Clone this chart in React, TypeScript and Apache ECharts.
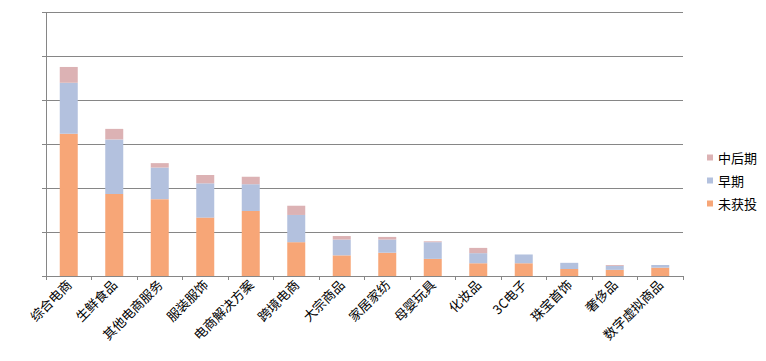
import React, { useEffect, useRef } from "react";
import * as echarts from "echarts";

const categories = [
  "综合电商", "生鲜食品", "其他电商服务", "服装服饰", "电商解决方案", "跨境电商", "大宗商品",
  "家居家纺", "母婴玩具", "化妆品", "3C电子", "珠宝首饰", "奢侈品", "数字虚拟商品",
];
const notFunded = [324, 187, 175, 133, 148, 77, 47, 53, 39, 29, 29, 16, 14, 19];
const early = [116, 124, 72, 78, 61, 62, 36, 30, 38, 23, 20, 14, 9, 6];
const midLate = [36, 24, 10, 19, 17, 21, 8, 6, 2, 12, 0, 0, 2, 0];
const seriesNames = ["未获投", "早期", "中后期"];
const colors = ["#F7A677", "#B3C1DE", "#DCB2B4"];

export default function App() {
  const ref = useRef<HTMLDivElement>(null);
  useEffect(() => {
    if (!ref.current) return;
    const chart = echarts.init(ref.current, null, { renderer: "svg" });
    const datasets = [notFunded, early, midLate];
    chart.setOption({
      animation: false,
      backgroundColor: "#ffffff",
      grid: { left: 46, right: 83, top: 12.5, bottom: 85, containLabel: false },
      legend: {
        orient: "vertical",
        left: 702,
        top: 146,
        itemWidth: 6,
        itemHeight: 6,
        itemGap: 10,
        icon: "rect",
        data: ["中后期", "早期", "未获投"],
        textStyle: { fontFamily: "Noto Sans CJK SC", fontSize: 13, color: "#000", padding: [0, 0, 0, 0] },
      },
      xAxis: {
        type: "category",
        data: categories,
        boundaryGap: true,
        axisLine: { lineStyle: { color: "#868686", width: 1 } },
        axisTick: { show: true, length: 4, inside: false, lineStyle: { color: "#868686" }, alignWithLabel: false },
        axisLabel: {
          rotate: 45,
          interval: 0,
          margin: 6,
          fontFamily: "Noto Sans CJK SC",
          fontSize: 13,
          color: "#000",
        },
      },
      yAxis: {
        type: "value",
        min: 0,
        max: 600,
        interval: 100,
        axisLine: { show: true, lineStyle: { color: "#868686", width: 1 } },
        axisTick: { show: true, length: 4, lineStyle: { color: "#868686" } },
        axisLabel: { show: false },
        splitLine: { show: true, lineStyle: { color: "#868686", width: 1 } },
      },
      series: seriesNames.map((name, i) => ({
        name,
        type: "bar",
        stack: "total",
        data: datasets[i],
        barWidth: 18,
        itemStyle: { color: colors[i] },
      })),
    });
    return () => chart.dispose();
  }, []);
  return <div ref={ref} style={{ width: 766, height: 361, position: "absolute", left: 0, top: 0 }} />;
}
